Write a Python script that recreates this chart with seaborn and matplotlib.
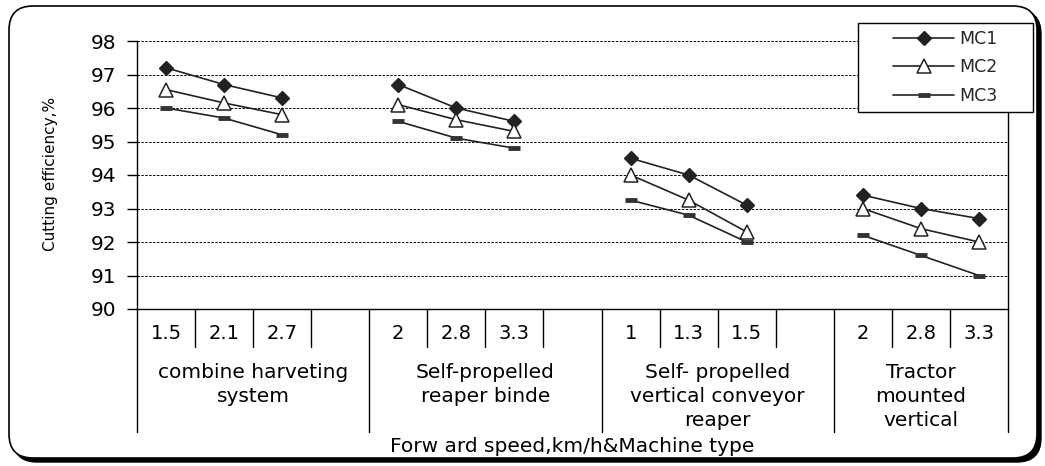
import matplotlib
matplotlib.use("Agg")
import matplotlib.pyplot as plt
import seaborn as sns
from matplotlib.patches import FancyBboxPatch, Rectangle
from matplotlib.transforms import IdentityTransform
from matplotlib.lines import Line2D

# ---------------- data ----------------
machine_types = ["combine harveting\nsystem",
                 "Self-propelled\nreaper binde",
                 "Self- propelled\nvertical conveyor\nreaper",
                 "Tractor\nmounted\nvertical"]
speeds = [["1.5", "2.1", "2.7"],
          ["2", "2.8", "3.3"],
          ["1", "1.3", "1.5"],
          ["2", "2.8", "3.3"]]
mc1 = [[97.2, 96.7, 96.3], [96.7, 96.0, 95.6], [94.5, 94.0, 93.1], [93.4, 93.0, 92.7]]
mc2 = [[96.55, 96.15, 95.8], [96.1, 95.65, 95.3], [94.0, 93.25, 92.3], [93.0, 92.4, 92.0]]
mc3 = [[96.0, 95.7, 95.2], [95.6, 95.1, 94.8], [93.25, 92.8, 92.0], [92.2, 91.6, 91.0]]
series_names = ["MC1", "MC2", "MC3"]
y_ticks = [90, 91, 92, 93, 94, 95, 96, 97, 98]
x_title = "Forw ard speed,km/h&Machine type"
y_title = "Cutting efficiency,%"

# ---------------- style ----------------
sns.set_theme(style="white")
plt.rcParams['font.family'] = ['DejaVu Sans']

W, H = 1045, 466
fig = plt.figure(figsize=(W / 100, H / 100), dpi=100)
fig.patch.set_facecolor("white")

# outer rounded frame with shadow
shadow = FancyBboxPatch((13, 4), 1028, 452, boxstyle="round,pad=0,rounding_size=24",
                        transform=IdentityTransform(), facecolor="black",
                        edgecolor="black", lw=1, zorder=-2)
frame = FancyBboxPatch((9, 8), 1028, 452, boxstyle="round,pad=0,rounding_size=24",
                       transform=IdentityTransform(), facecolor="white",
                       edgecolor="black", lw=1.2, zorder=-1)
fig.add_artist(shadow)
fig.add_artist(frame)

ax_l, ax_r, ax_t, ax_b = 137, 1008, 41, 309
ax = fig.add_axes([ax_l / W, (H - ax_b) / H, (ax_r - ax_l) / W, (ax_b - ax_t) / H])
ax.set_facecolor("white")

line_col = "#222222"
styles = {
    "MC1": dict(marker="D", ms=7.5, mfc=line_col, mec=line_col, mew=1),
    "MC2": dict(marker="^", ms=10, mfc="white", mec=line_col, mew=1.1),
    "MC3": dict(marker="_", ms=8, mfc=line_col, mec="#333333", mew=3.5),
}

n_slots = 15
for name, vals in zip(series_names, [mc1, mc2, mc3]):
    for g in range(len(machine_types)):
        xs = [4 * g + i + 0.5 for i in range(len(vals[g]))]
        sns.lineplot(x=xs, y=vals[g], ax=ax, color=line_col, lw=1.2,
                     estimator=None, sort=False, legend=False, zorder=3,
                     **styles[name])

# y axis
ax.set_ylim(y_ticks[0], y_ticks[-1])
ax.set_yticks(y_ticks)
ax.set_yticklabels([str(v) for v in y_ticks], fontsize=14.5)
ax.tick_params(axis="y", direction="out", length=7, width=1, pad=8, colors="black", left=True)
ax.yaxis.grid(True, linestyle=(0, (2.5, 1.5)), color="black", lw=0.7)
ax.xaxis.grid(False)

# x axis (categorical, multi-level)
ax.set_xlim(0, n_slots)
centers, labels = [], []
for g, sp in enumerate(speeds):
    for i, s in enumerate(sp):
        centers.append(4 * g + i + 0.5)
        labels.append(s)
ax.set_xticks(centers)
ax.set_xticklabels(labels, fontsize=14)
ax.tick_params(axis="x", length=0, pad=11, colors="black")

for sp_name in ["left", "bottom", "right"]:
    ax.spines[sp_name].set_visible(True)
    ax.spines[sp_name].set_color("black")
    ax.spines[sp_name].set_linewidth(1)
ax.spines["top"].set_visible(False)

trans = ax.get_xaxis_transform()
axh = ax_b - ax_t
short_len = 38 / axh
long_len = 123 / axh
group_starts = [0, 4, 8, 12, n_slots]
for k in range(1, n_slots):
    if k not in group_starts:
        ax.plot([k, k], [0, -short_len], transform=trans, clip_on=False, color="black", lw=1)
for k in group_starts:
    ax.plot([k, k], [0, -long_len], transform=trans, clip_on=False, color="black", lw=1)

for g, lab in enumerate(machine_types):
    xc = (group_starts[g] + group_starts[g + 1]) / 2
    ax.text(xc, -(363 - ax_b) / axh, lab, transform=trans, ha="center", va="top",
            fontsize=14.5, linespacing=1.32, color="black")

ax.text(n_slots / 2, -(447 - ax_b) / axh, x_title, transform=trans, ha="center",
        va="center", fontsize=14.5, color="black")
fig.text(51 / W, 1 - 174 / H, y_title, rotation=90, ha="center", va="center",
         fontsize=11, color="black")

# legend
leg_box = Rectangle((858, H - 112), 175, 89, transform=IdentityTransform(),
                    facecolor="white", edgecolor="black", lw=1, zorder=4)
fig.add_artist(leg_box)
handles = [Line2D([], [], color=line_col, lw=1.2, **styles[n]) for n in series_names]
fig.legend(handles, series_names, loc="center", bbox_to_anchor=(945.5 / W, 1 - 67.5 / H),
           frameon=False, fontsize=12.5, handlelength=3.5, handletextpad=0.3,
           labelspacing=0.6).set_zorder(6)

fig.savefig("out.png", dpi=100)
